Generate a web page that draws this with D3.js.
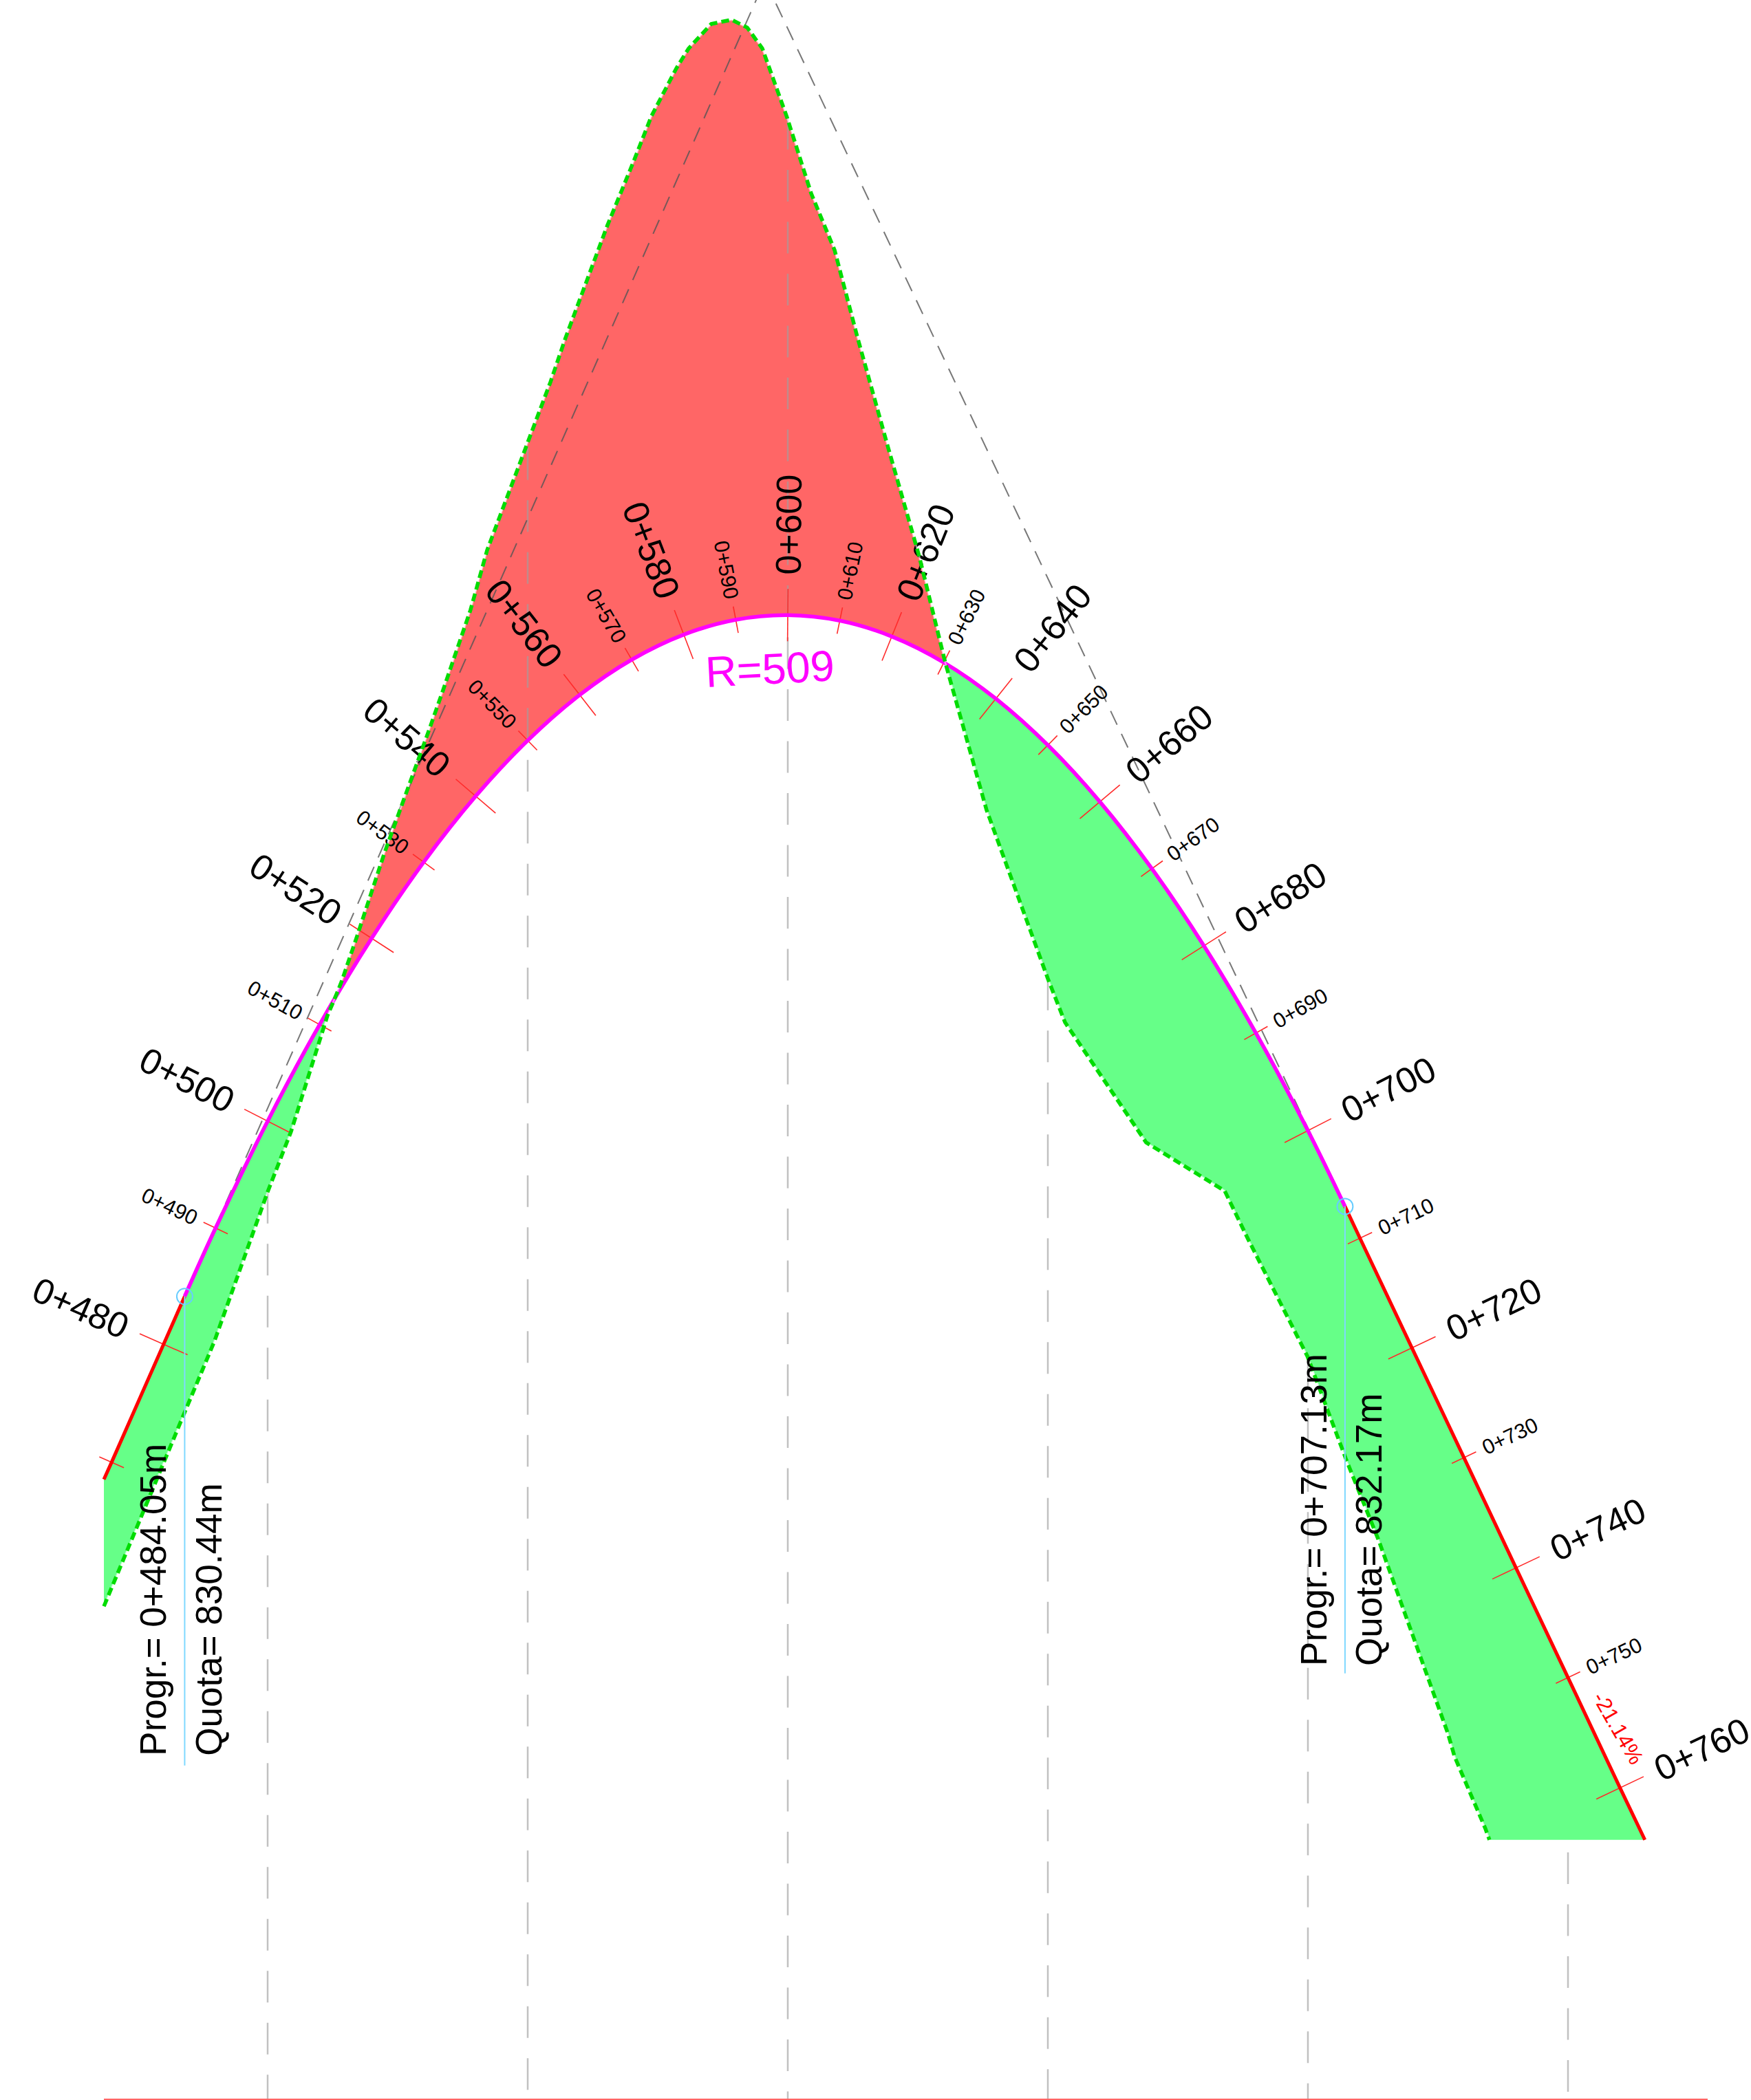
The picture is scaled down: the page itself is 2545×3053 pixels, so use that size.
<!DOCTYPE html>
<html>
<head>
<meta charset="utf-8">
<title>Profilo</title>
<script src="https://d3js.org/d3.v7.min.js"></script>
<style>
  html, body { margin: 0; padding: 0; background: #fff; }
  svg { display: block; }
  text { font-family: "Liberation Sans", Arial, sans-serif; }
</style>
</head>
<body>
<div id="chart"></div>
<script>
// progetto: stazioni (m) e quote (m)
const profileStations = [468.52, 470, 480, 484.05, 490, 500, 510, 512.7, 520, 530, 540, 550, 560, 570, 580, 590, 600, 610, 620, 630, 630.3, 640, 650, 660, 670, 680, 690, 700, 707.13, 710, 720, 730, 740, 750, 760, 764.78];
const profileElev = [826.92, 827.25, 829.52, 830.44, 831.755, 833.81, 835.667, 836.12, 837.327, 838.792, 840.06, 841.131, 842.007, 842.685, 843.167, 843.453, 843.542, 843.435, 843.131, 842.631, 842.62, 841.934, 841.041, 839.952, 838.665, 837.182, 835.505, 833.628, 832.17, 831.56, 829.45, 827.34, 825.22, 823.11, 820.99, 819.99];

// terreno
const groundStations = [468.52, 484.0, 489.7, 500, 504.5, 511.5, 512.7, 514.2, 517.2, 522.5, 531.1, 533.7, 539.0, 542.2, 554.4, 557.3, 565.3, 570.3, 573.8, 578.6, 580.95, 585.3, 589.2, 592.2, 595.1, 599.9, 604.5, 609.0, 613.4, 619.3, 625.3, 630.3, 638.2, 650, 653.3, 668.9, 684, 688.4, 699.9, 707.4, 713.6, 726.9, 728.2, 734.1, 734.9];
const groundElev = [824.48, 828.20, 829.56, 832.45, 833.61, 835.84, 836.12, 836.49, 837.37, 838.98, 841.35, 842.09, 843.64, 844.79, 848.03, 848.88, 851.03, 852.25, 853.14, 854.06, 854.44, 854.91, 854.99, 854.84, 854.44, 853.10, 851.65, 850.56, 848.88, 846.76, 844.66, 842.62, 839.80, 836.55, 835.71, 833.40, 832.47, 831.56, 829.29, 827.29, 825.75, 822.04, 821.59, 820.21, 819.99];

// tangenti (vertice fuori foglio)
const tangentStations = [484.05, 595.6, 707.13];
const tangentElev = [830.44, 855.75, 832.17];

// linee verticali ogni 50 m, dalla quota di partenza al piano di riferimento
const gridStations = [500, 550, 600, 650, 700, 750];
const gridTopElev = [832.45, 846.75, 853.10, 836.55, 829.29, 819.75];

const datumElev = 815;
const datumStations = [468.52, 776.85];

const majorStations = [480, 500, 520, 540, 560, 580, 600, 620, 640, 660, 680, 700, 720, 740, 760];
const minorStations = [490, 510, 530, 550, 570, 590, 610, 630, 650, 670, 690, 710, 730, 750];
const unlabelledStations = [470];

const vcStations = [484.05, 707.13];
const vcElev = [830.44, 832.17];
const vcLabels = ["0+484.05m", "0+707.13m"];
const vcQuota = ["830.44m", "832.17m"];
const vcLeaderEndElev = [821.42, 823.19];

const width = 2545, height = 3053;

const x = d3.scaleLinear().domain([450, 770]).range([11, 2430.2]);
const y = d3.scaleLinear().domain([815, 855.37]).range([3052, 0]);

const svg = d3.select("#chart").append("svg")
    .attr("width", width)
    .attr("height", height)
    .style("background", "white");

const line = d3.line().x(d => x(d[0])).y(d => y(d[1]));
const profile = d3.zip(profileStations, profileElev);
const ground = d3.zip(groundStations, groundElev);

function region(a, b) {
    const top = ground.filter(d => d[0] >= a && d[0] <= b);
    const bottom = profile.filter(d => d[0] >= a && d[0] <= b).reverse();
    return line(top.concat(bottom)) + "Z";
}

// riempimenti
svg.append("path").attr("d", region(468.52, 512.7)).attr("fill", "#66ff88");
svg.append("path").attr("d", region(512.7, 630.3)).attr("fill", "#ff6666");
svg.append("path").attr("d", region(630.3, 764.78)).attr("fill", "#66ff88");

// griglia verticale
svg.append("g").selectAll("line")
    .data(d3.zip(gridStations, gridTopElev)).join("line")
    .attr("x1", d => x(d[0])).attr("x2", d => x(d[0]))
    .attr("y1", d => y(d[1])).attr("y2", y(datumElev))
    .attr("stroke", "#a0a0a0").attr("stroke-opacity", 0.65)
    .attr("stroke-width", 2.5).attr("stroke-dasharray", "46 29.5");

svg.append("line")
    .attr("x1", x(datumStations[0])).attr("x2", x(datumStations[1]))
    .attr("y1", y(datumElev)).attr("y2", y(datumElev))
    .attr("stroke", "#ff6666").attr("stroke-width", 2);

// tangenti
svg.append("path")
    .attr("d", line(d3.zip(tangentStations, tangentElev)))
    .attr("fill", "none").attr("stroke", "#555").attr("stroke-opacity", 0.8)
    .attr("stroke-width", 2).attr("stroke-dasharray", "22 14.7");

// normale allo schermo in una stazione del profilo
function normalAt(s) {
    const i = profileStations.indexOf(s);
    const a = profile[Math.max(i - 1, 0)], b = profile[Math.min(i + 1, profile.length - 1)];
    const dx = x(b[0]) - x(a[0]), dy = y(b[1]) - y(a[1]);
    const len = Math.hypot(dx, dy);
    return [dy / len, -dx / len];
}

function drawTicks(stations, half, offset, fontSize, label) {
    const g = svg.append("g");
    stations.forEach(s => {
        const z = profileElev[profileStations.indexOf(s)];
        const n = normalAt(s);
        const px = x(s), py = y(z);
        g.append("line")
            .attr("x1", px - n[0] * half).attr("y1", py - n[1] * half)
            .attr("x2", px + n[0] * half).attr("y2", py + n[1] * half)
            .attr("stroke", "#ff2a2a").attr("stroke-width", 1.6);
        if (!label) return;
        const left = s < 600;
        const angle = left
            ? Math.atan2(-n[1], -n[0]) * 180 / Math.PI
            : Math.atan2(n[1], n[0]) * 180 / Math.PI;
        const tx = px + n[0] * offset, ty = py + n[1] * offset;
        g.append("text")
            .attr("transform", `translate(${tx},${ty}) rotate(${angle})`)
            .attr("text-anchor", left ? "end" : "start")
            .attr("dy", "0.35em")
            .style("font-size", fontSize + "px")
            .text("0+" + s);
    });
}

drawTicks(unlabelledStations, 19.5, 30, 30.5, false);
drawTicks(minorStations, 19.5, 31, 30.5, true);
drawTicks(majorStations, 38, 58.5, 52, true);

// progetto: livellette rosse, raccordo magenta
const curveLine = d3.line().x(d => x(d[0])).y(d => y(d[1])).curve(d3.curveCatmullRom.alpha(0.5));
svg.append("path")
    .attr("d", line(profile.filter(d => d[0] <= 484.05)))
    .attr("fill", "none").attr("stroke", "#ff0000").attr("stroke-width", 5);
svg.append("path")
    .attr("d", line(profile.filter(d => d[0] >= 707.13)))
    .attr("fill", "none").attr("stroke", "#ff0000").attr("stroke-width", 5);
svg.append("path")
    .attr("d", curveLine(profile.filter(d => d[0] >= 484.05 && d[0] <= 707.13 && d[0] !== 512.7 && d[0] !== 630.3)))
    .attr("fill", "none").attr("stroke", "#ff00ff").attr("stroke-width", 5.6);

// terreno
svg.append("path")
    .attr("d", line(ground))
    .attr("fill", "none").attr("stroke", "#ffffff").attr("stroke-opacity", 0.55).attr("stroke-width", 2.5);
svg.append("path")
    .attr("d", line(ground))
    .attr("fill", "none").attr("stroke", "#00dc00").attr("stroke-width", 5.5).attr("stroke-dasharray", "11.5 6");

// punti di tangenza
vcStations.forEach((s, i) => {
    const px = x(s), py = y(vcElev[i]);
    svg.append("circle").attr("cx", px).attr("cy", py).attr("r", 11.5)
        .attr("fill", "none").attr("stroke", "#66ccff").attr("stroke-width", 2);
    svg.append("line")
        .attr("x1", px).attr("x2", px).attr("y1", py).attr("y2", y(vcLeaderEndElev[i]))
        .attr("stroke", "#7fd8ff").attr("stroke-width", 2);
    const base = py + 668;
    svg.append("text")
        .attr("transform", `translate(${px - 27},${base}) rotate(-90)`)
        .style("font-size", "53px").text("Progr.= " + vcLabels[i]);
    svg.append("text")
        .attr("transform", `translate(${px + (i === 0 ? 54 : 53)},${base}) rotate(-90)`)
        .style("font-size", "53px").text("Quota= " + vcQuota[i]);
});

svg.append("text")
    .attr("transform", `translate(${x(596.7)},${y(843.0) + 59}) rotate(-3)`)
    .attr("text-anchor", "middle")
    .attr("fill", "#ff00ff")
    .style("font-size", "63px")
    .text("R=509");

svg.append("text")
    .attr("transform", `translate(${x(759.66)},${y(822.14)}) rotate(60)`)
    .attr("text-anchor", "middle")
    .attr("dy", "0.35em")
    .attr("fill", "#ff0000")
    .style("font-size", "31px")
    .text("-21.14%");
</script>
</body>
</html>
